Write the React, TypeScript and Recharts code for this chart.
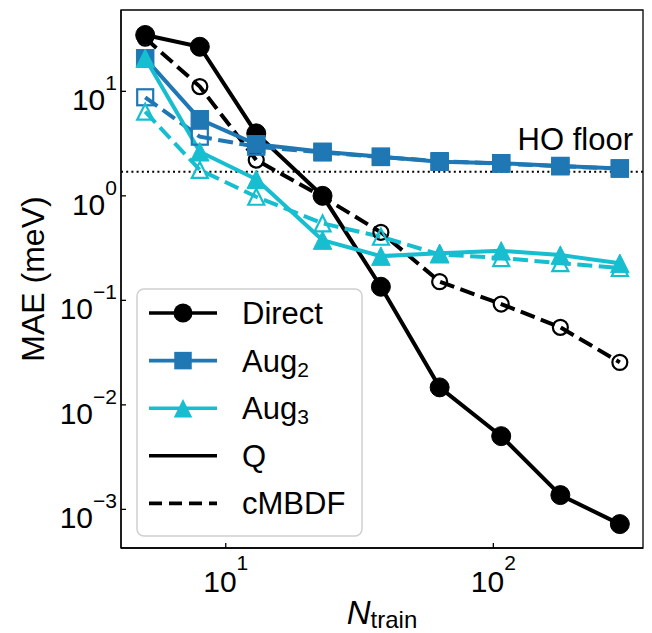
import React from 'react';
import { LineChart, Line, XAxis, YAxis, ReferenceLine, ReferenceArea } from 'recharts';

// training set sizes
const nTrain = [5, 8, 13, 23, 38, 63, 107, 178, 297];

// MAE (meV), Q = solid, cMBDF = dashed
const directQ = [34.6, 26.7, 3.96, 1.0, 0.135, 0.0147, 0.00502, 0.00137, 0.000723];
const directCM = [32.3, 11.1, 2.2, 0.98, 0.448, 0.151, 0.0922, 0.0552, 0.0255];
const aug2Q = [20.7, 5.4, 3.11, 2.64, 2.37, 2.12, 2.05, 1.93, 1.83];
const aug2CM = [8.77, 3.68, 2.95, 2.6, 2.35, 2.15, 2.03, 1.92, 1.82];
const aug3Q = [20.7, 2.64, 1.44, 0.377, 0.265, 0.282, 0.298, 0.271, 0.226];
const aug3CM = [6.38, 1.77, 0.98, 0.545, 0.406, 0.275, 0.254, 0.227, 0.204];

const HO_FLOOR = 1.7;
const xTicks = [10, 100];
const yTicks = [1e-3, 1e-2, 1e-1, 1, 10];
const X_DOMAIN: [number, number] = [4.06, 362.5];
const Y_DOMAIN: [number, number] = [4.27e-4, 60];

const COLORS = {
  direct: '#000000',
  aug2: '#1f77b4',
  aug3: '#17becf',
};

const FONT = '"Liberation Sans", Arial, Helvetica, sans-serif';

const data = nTrain.map((n, i) => ({
  n,
  directQ: directQ[i],
  directCM: directCM[i],
  aug2Q: aug2Q[i],
  aug2CM: aug2CM[i],
  aug3Q: aug3Q[i],
  aug3CM: aug3CM[i],
}));

const expText = (v: number) => {
  const e = Math.round(Math.log10(v));
  return e < 0 ? '\u2212' + -e : String(e);
};

const YTick = (p: any) => {
  const ax = p.x + 4;
  return (
    <g>
      <line x1={ax} x2={ax + 5} y1={p.y} y2={p.y} stroke="#000" strokeWidth={1.3} />
      <text x={ax - 4} y={p.y + 19} textAnchor="end" fontSize={30} fontFamily={FONT} fill="#000">
        10<tspan dy={-20} fontSize={21}>{expText(p.payload.value)}</tspan>
      </text>
    </g>
  );
};

const XTick = (p: any) => {
  const ay = p.y - 4;
  return (
    <g>
      <line x1={p.x} x2={p.x} y1={ay} y2={ay - 5} stroke="#000" strokeWidth={1.3} />
      <text x={p.x} y={ay + 44} textAnchor="middle" fontSize={30} fontFamily={FONT} fill="#000">
        10<tspan dy={-22} fontSize={21}>{expText(p.payload.value)}</tspan>
      </text>
    </g>
  );
};

// markers
const circleDot = (color: string, open: boolean) => (p: any) =>
  p.cx == null ? null : (
    <circle key={`c${p.index}`} cx={p.cx} cy={p.cy} r={open ? 7.5 : 9.5}
      fill={open ? 'none' : color} stroke={color} strokeWidth={open ? 2.2 : 1} />
  );

const squareDot = (color: string, open: boolean) => (p: any) => {
  if (p.cx == null) return null;
  const s = open ? 16 : 17.5;
  return (
    <rect key={`s${p.index}`} x={p.cx - s / 2} y={p.cy - s / 2} width={s} height={s}
      fill={open ? 'none' : color} stroke={color} strokeWidth={open ? 2.2 : 1} />
  );
};

const triPoints = (cx: number, cy: number, s: number) =>
  `${cx},${cy - s / 2} ${cx - s / 2},${cy + s / 2} ${cx + s / 2},${cy + s / 2}`;

const triDot = (color: string, open: boolean) => (p: any) =>
  p.cx == null ? null : (
    <polygon key={`t${p.index}`} points={triPoints(p.cx, p.cy, open ? 16 : 18.5)}
      fill={open ? 'none' : color} stroke={color} strokeWidth={open ? 2.2 : 1} strokeLinejoin="miter" />
  );

const LW = 4;
const DASH = '15 6.5';

const legendRows = [
  { label: 'Direct', sub: '', color: COLORS.direct, marker: 'circle', dash: false },
  { label: 'Aug', sub: '2', color: COLORS.aug2, marker: 'square', dash: false },
  { label: 'Aug', sub: '3', color: COLORS.aug3, marker: 'triangle', dash: false },
  { label: 'Q', sub: '', color: '#000', marker: '', dash: false },
  { label: 'cMBDF', sub: '', color: '#000', marker: '', dash: true },
];

const ChartLegend = () => (
  <svg width={228} height={250} style={{ position: 'absolute', left: 136, top: 288 }}>
    <rect x={1} y={1} width={225} height={247} rx={7} ry={7} fill="rgba(255,255,255,0.8)" stroke="#d0d0d0" strokeWidth={1.5} />
    {legendRows.map((r, i) => {
      const cy = 25 + i * 47.6;
      return (
        <g key={i}>
          <line x1={13} x2={81} y1={cy} y2={cy} stroke={r.color} strokeWidth={3.6}
            strokeDasharray={r.dash ? '13 7' : undefined} />
          {r.marker === 'circle' && <circle cx={47} cy={cy} r={9.5} fill={r.color} />}
          {r.marker === 'square' && <rect x={47 - 8.75} y={cy - 8.75} width={17.5} height={17.5} fill={r.color} />}
          {r.marker === 'triangle' && <polygon points={triPoints(47, cy, 18.5)} fill={r.color} />}
          <text x={106} y={cy + 11} fontSize={31} fontFamily={FONT} fill="#000">
            {r.label}
            {r.sub && <tspan fontSize={21} dy={5}>{r.sub}</tspan>}
          </text>
        </g>
      );
    })}
  </svg>
);

const App: React.FC = () => {
  return (
    <div style={{ position: 'relative', width: 652, height: 633, background: '#fff', fontFamily: FONT }}>
      <style>{'body{margin:0}'}</style>
      <LineChart width={652} height={633} data={data} margin={{ top: 10, right: 9, left: 0, bottom: 0 }}>
        <XAxis
          dataKey="n"
          type="number"
          scale="log"
          domain={X_DOMAIN}
          ticks={xTicks}
          interval={0}
          allowDataOverflow
          height={85}
          tickSize={0}
          tickMargin={4}
          tick={(p: any) => <XTick {...p} />}
          axisLine={{ stroke: '#000', strokeWidth: 1.3 }}
          label={() => (
            <text x={382} y={624} textAnchor="middle" fontSize={33} fontFamily={FONT} fill="#000">
              <tspan fontStyle="italic">N</tspan>
              <tspan fontSize={24} dy={4}>train</tspan>
            </text>
          )}
        />
        <YAxis
          type="number"
          scale="log"
          domain={Y_DOMAIN}
          ticks={yTicks}
          interval={0}
          allowDataOverflow
          width={121}
          tickSize={0}
          tickMargin={4}
          tick={(p: any) => <YTick {...p} />}
          axisLine={{ stroke: '#000', strokeWidth: 1.3 }}
          label={() => (
            <text x={44} y={279} transform="rotate(-90, 44, 279)" textAnchor="middle" fontSize={32} fontFamily={FONT} fill="#000">
              MAE (meV)
            </text>
          )}
        />

        {/* plot frame */}
        <ReferenceArea x1={X_DOMAIN[0]} x2={X_DOMAIN[1]} y1={Y_DOMAIN[0]} y2={Y_DOMAIN[1]}
          ifOverflow="visible" fill="none" fillOpacity={0} stroke="#000" strokeWidth={1.3} />

        <ReferenceLine
          y={HO_FLOOR}
          stroke="#000"
          strokeWidth={2}
          strokeDasharray="2 3.2"
          label={(p: any) => (
            <text x={p.viewBox.x + p.viewBox.width - 10} y={p.viewBox.y - 22} textAnchor="end" fontSize={31} fontFamily={FONT} fill="#000">
              HO floor
            </text>
          )}
        />

        <Line dataKey="directQ" type="linear" stroke={COLORS.direct} strokeWidth={LW} dot={circleDot(COLORS.direct, false)} activeDot={false} isAnimationActive={false} />
        <Line dataKey="directCM" type="linear" stroke={COLORS.direct} strokeWidth={LW} strokeDasharray={DASH} dot={circleDot(COLORS.direct, true)} activeDot={false} isAnimationActive={false} />
        <Line dataKey="aug2Q" type="linear" stroke={COLORS.aug2} strokeWidth={LW} dot={squareDot(COLORS.aug2, false)} activeDot={false} isAnimationActive={false} />
        <Line dataKey="aug2CM" type="linear" stroke={COLORS.aug2} strokeWidth={LW} strokeDasharray={DASH} dot={squareDot(COLORS.aug2, true)} activeDot={false} isAnimationActive={false} />
        <Line dataKey="aug3Q" type="linear" stroke={COLORS.aug3} strokeWidth={LW} dot={triDot(COLORS.aug3, false)} activeDot={false} isAnimationActive={false} />
        <Line dataKey="aug3CM" type="linear" stroke={COLORS.aug3} strokeWidth={LW} strokeDasharray={DASH} dot={triDot(COLORS.aug3, true)} activeDot={false} isAnimationActive={false} />
      </LineChart>
      <ChartLegend />
    </div>
  );
};

export default App;
